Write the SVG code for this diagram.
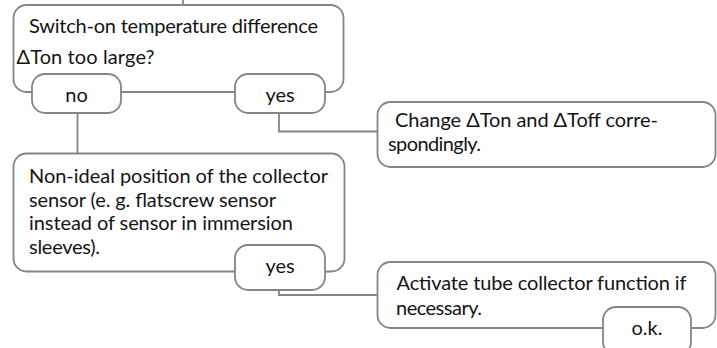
<svg xmlns="http://www.w3.org/2000/svg" width="717" height="348" viewBox="0 0 717 348">
<style>
.box{fill:#fff;stroke:#858585;stroke-width:1.8}
.pill{fill:#fff;stroke:#858585;stroke-width:1.8}
.con{fill:none;stroke:#858585;stroke-width:1.8}
text{font-family:Lato,"Liberation Sans",sans-serif;font-size:20px;fill:#141414}
.c{text-anchor:middle}
</style>
<rect width="717" height="348" fill="#fff"/>
<g id="connectors">
<path class="con" d="M183 0V5"/>
<path class="con" d="M77.5 110V154"/>
<path class="con" d="M279 110V131.5H378"/>
<path class="con" d="M279 285V295H378"/>
</g>
<g id="n1">
<rect class="box" x="13.5" y="5" width="330" height="87" rx="13"/>
<text x="29" y="33" textLength="289">Switch-on temperature difference</text>
<text x="16.5" y="63.5" textLength="138">ΔTon too large?</text>
</g>
<g id="n1-no">
<rect class="pill" x="32" y="74" width="89" height="39" rx="13"/>
<text class="c" x="76.5" y="101.5">no</text>
</g>
<g id="n1-yes">
<rect class="pill" x="235" y="74" width="90" height="39" rx="13"/>
<text class="c" x="280" y="101.5">yes</text>
</g>
<g id="n2">
<rect class="box" x="377.5" y="102" width="338" height="65" rx="13"/>
<text x="395" y="126.5" textLength="263">Change ΔTon and ΔToff corre-</text>
<text x="388" y="151" textLength="93">spondingly.</text>
</g>
<g id="n3">
<rect class="box" x="13.5" y="153.5" width="331" height="118" rx="13"/>
<text x="29" y="183" textLength="299">Non-ideal position of the collector</text>
<text x="29" y="206.5" textLength="247">sensor (e. g. flatscrew sensor</text>
<text x="29" y="230" textLength="264">instead of sensor in immersion</text>
<text x="29" y="253.5" textLength="71">sleeves).</text>
</g>
<g id="n3-yes">
<rect class="pill" x="235" y="245" width="90" height="45" rx="13"/>
<text class="c" x="280" y="273">yes</text>
</g>
<g id="n4">
<rect class="box" x="377.5" y="262" width="338" height="66" rx="13"/>
<text x="396.5" y="290" textLength="290">Activate tube collector function if</text>
<text x="396" y="314.5" textLength="86">necessary.</text>
</g>
<g id="n4-ok">
<rect class="pill" x="603" y="307" width="88" height="48" rx="13"/>
<text class="c" x="647" y="335">o.k.</text>
</g>
</svg>
